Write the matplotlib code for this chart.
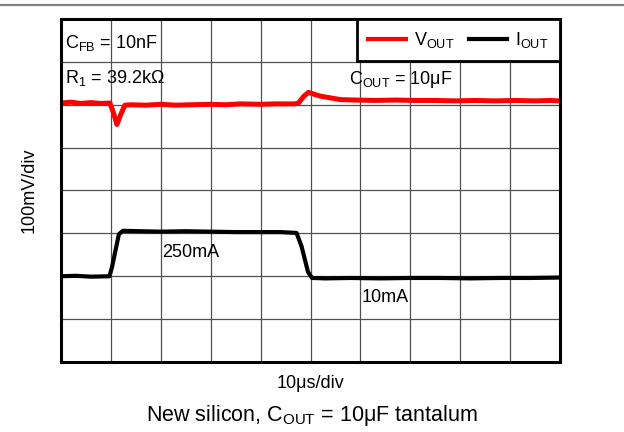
import matplotlib.pyplot as plt
from matplotlib.lines import Line2D

plt.rcParams['font.family'] = ['Liberation Sans', 'DejaVu Sans']
plt.rcParams['mathtext.fontset'] = 'custom'
plt.rcParams['mathtext.rm'] = 'Liberation Sans'
plt.rcParams['mathtext.it'] = 'Liberation Sans'

# --- DATA (time in us, amplitude in divisions, 0 = bottom of screen) ---
t_vout = [0, 2, 4, 6, 8, 9.8, 10.5, 11.2, 12.0, 12.8, 14, 17, 20, 23, 26, 30,
          33, 36, 40, 43, 46.8, 47.6, 48.6, 49.6, 50.6, 52, 54, 56, 59, 63,
          67, 71, 75, 79, 83, 87, 91, 95, 98, 100]
v_vout = [6.04, 6.06, 6.03, 6.05, 6.03, 6.04, 5.82, 5.54, 5.78, 5.99, 6.0, 5.99,
          6.01, 5.99, 6.0, 6.01, 6.0, 6.02, 6.01, 6.02, 6.02, 6.04, 6.19, 6.29,
          6.25, 6.2, 6.16, 6.12, 6.11, 6.1, 6.11, 6.1, 6.1, 6.09, 6.1, 6.09,
          6.1, 6.09, 6.1, 6.09]

t_iout = [0, 3, 6, 9.7, 10.2, 11.6, 12.4, 16, 20, 25, 30, 35, 40, 44, 47.2,
          48.2, 49.5, 50.3, 53, 58, 64, 70, 76, 82, 88, 94, 100]
v_iout = [2.0, 2.01, 1.99, 2.0, 2.2, 2.98, 3.06, 3.05, 3.04, 3.05, 3.04, 3.03,
          3.03, 3.03, 3.01, 2.7, 2.1, 1.96, 1.95, 1.96, 1.95, 1.96, 1.96, 1.95,
          1.96, 1.96, 1.97]

LABEL_VOUT = r'V$_{\mathrm{OUT}}$'
LABEL_IOUT = r'I$_{\mathrm{OUT}}$'

FS = 13

fig = plt.figure(figsize=(6.24, 4.32), dpi=100)
ax = fig.add_axes([61 / 624, 70 / 432, 499 / 624, 343 / 432])

ax.plot(t_vout, v_vout, color='#ff0000', lw=3.6, solid_joinstyle='round')
ax.plot(t_iout, v_iout, color='black', lw=3.0, solid_joinstyle='round')

ax.set_xlim(0, 100)
ax.set_ylim(0, 8)
ax.set_xticks(range(0, 101, 10))
ax.set_yticks(range(0, 9))
ax.tick_params(length=0, labelbottom=False, labelleft=False)
ax.grid(True, color='#505050', lw=0.9)
for s in ax.spines.values():
    s.set_linewidth(2.2)
    s.set_color('black')

ax.set_xlabel('10μs/div', fontsize=FS, labelpad=9)
ax.set_ylabel('100mV/div', fontsize=FS, labelpad=17)

# annotations
ax.text(0.9, 7.45, r'C$_{\mathrm{FB}}$ = 10nF', fontsize=FS, va='center')
ax.text(0.9, 6.62, r'R$_{1}$ = 39.2kΩ', fontsize=FS, va='center')
ax.text(57.8, 6.6, r'C$_{\mathrm{OUT}}$ = 10μF', fontsize=FS, va='center')
ax.text(20.3, 2.55, '250mA', fontsize=FS, va='center')
ax.text(60.3, 1.5, '10mA', fontsize=FS, va='center')

handles = [Line2D([], [], color='#ff0000', lw=3),
           Line2D([], [], color='black', lw=3)]
leg = ax.legend(handles, [LABEL_VOUT, LABEL_IOUT], loc='upper right', ncol=2,
                fontsize=FS, frameon=True, fancybox=False, borderaxespad=0,
                handlelength=2.1, columnspacing=0.8, handletextpad=0.45,
                borderpad=0.62, framealpha=1)
leg.get_frame().set_edgecolor('black')
leg.get_frame().set_linewidth(2.0)

fig.text(0.5, 1 - 415 / 432, r'New silicon, C$_{\mathrm{OUT}}$ = 10μF tantalum',
         ha='center', va='center', fontsize=15.5)

# grey rule across the top
fig.add_artist(Line2D([0, 1], [1 - 5 / 432, 1 - 5 / 432], color='#808080', lw=1.6,
                      transform=fig.transFigure))

fig.savefig('out.png', dpi=100)
